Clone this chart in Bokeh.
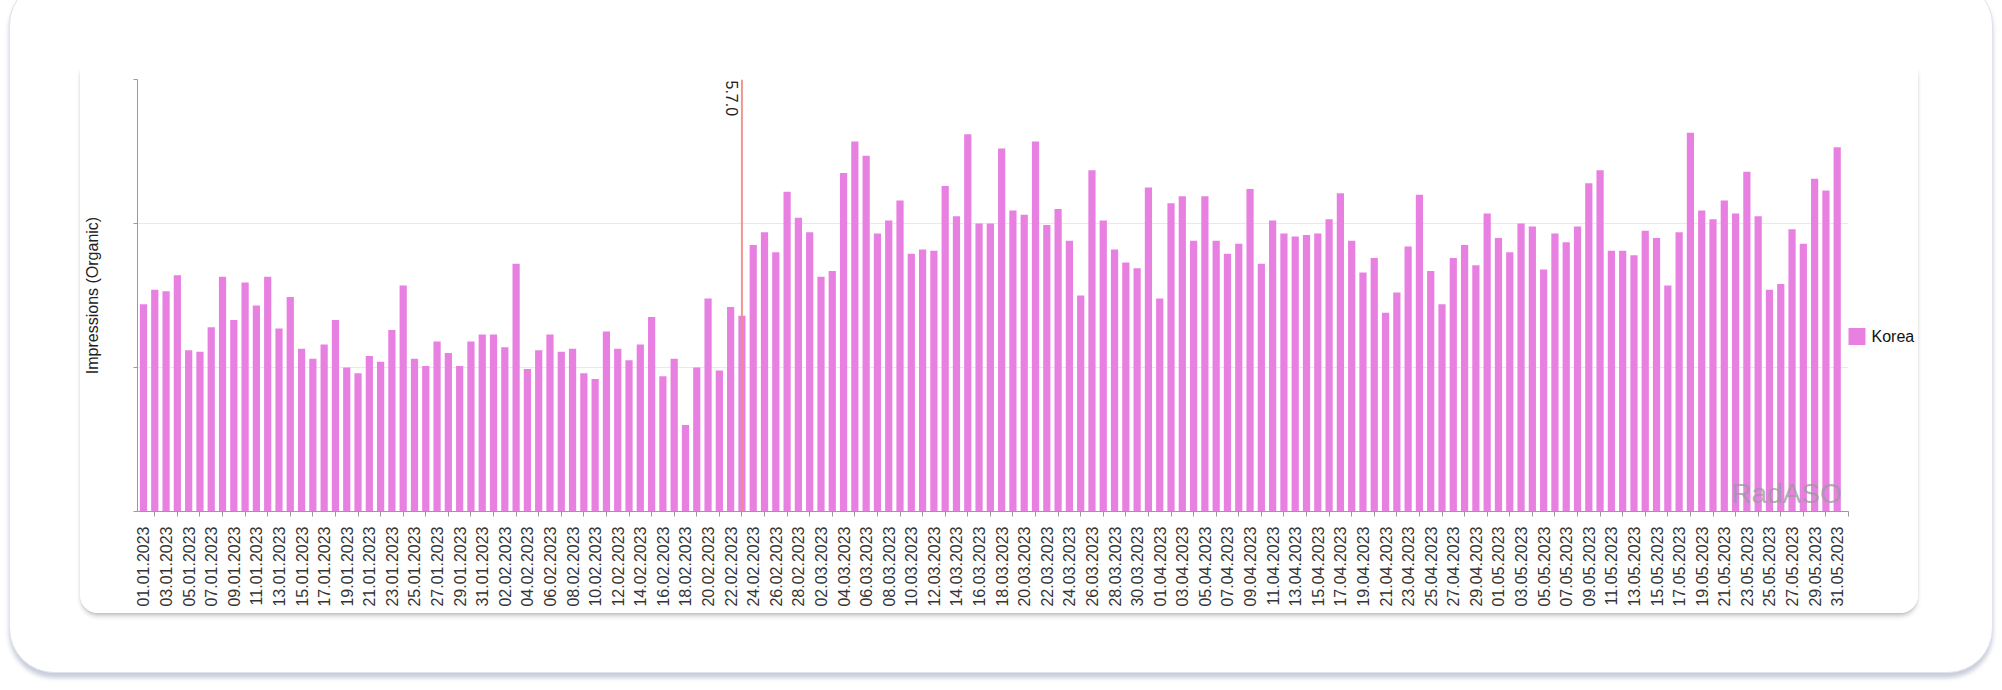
import math
import datetime
from bokeh.plotting import figure
from bokeh.layouts import column
from bokeh.models import (ColumnDataSource, FixedTicker, Span, Label, LinearAxis,
                          Range1d, CustomJSTickFormatter)
from bokeh.embed import file_html
from bokeh.resources import INLINE

# ---------------- data ----------------
start = datetime.date(2023, 1, 1)
dates = [(start + datetime.timedelta(days=i)).strftime("%d.%m.%Y") for i in range(151)]

impressions_jan = [1440, 1540, 1530, 1640, 1120, 1110, 1280, 1630, 1330, 1590, 1430, 1630, 1270, 1490,
                   1130, 1060, 1160, 1330, 1000, 960, 1080, 1040, 1260, 1570, 1060, 1010, 1180, 1100,
                   1010, 1180, 1230]
impressions_feb = [1230, 1140, 1720, 990, 1120, 1230, 1110, 1130, 960, 920, 1250, 1130, 1050, 1160,
                   1350, 940, 1060, 600, 1000, 1480, 980, 1420, 1360, 1850, 1940, 1800, 2220, 2040]
impressions_mar = [1940, 1630, 1670, 2350, 2570, 2470, 1930, 2020, 2160, 1790, 1820, 1810, 2260, 2050,
                   2620, 2000, 2000, 2520, 2090, 2060, 2570, 1990, 2100, 1880, 1500, 2370, 2020, 1820,
                   1730, 1690, 2250]
impressions_apr = [1480, 2140, 2190, 1880, 2190, 1880, 1790, 1860, 2240, 1720, 2020, 1930, 1910, 1920,
                   1930, 2030, 2210, 1880, 1660, 1760, 1380, 1520, 1840, 2200, 1670, 1440, 1760, 1850,
                   1710, 2070]
impressions_may = [1900, 1800, 2000, 1980, 1680, 1930, 1870, 1980, 2280, 2370, 1810, 1810, 1780, 1950,
                   1900, 1570, 1940, 2630, 2090, 2030, 2160, 2070, 2360, 2050, 1540, 1580, 1960, 1860,
                   2310, 2230, 2530]
impressions = impressions_jan + impressions_feb + impressions_mar + impressions_apr + impressions_may

series_name = "Korea"
release_date = "23.02.2023"
release_label = "5.7.0"
y_ticks = [0, 1000, 2000, 3000]

# ---------------- figure ----------------
FONT = "Liberation Sans"
BAR_COLOR = "#e880e2"
idx = list(range(len(dates)))
src = ColumnDataSource(dict(x=idx, y=impressions, date=dates))

p = figure(width=1838, height=545, output_backend="svg", toolbar_location=None,
           x_range=Range1d(-0.53, 151.0), y_range=Range1d(0, 3000),
           min_border_left=55, min_border_right=70, min_border_top=11, min_border_bottom=102,
           margin=(87, 0, 0, 70),
           styles={"border-radius": "0 0 18px 18px", "overflow": "hidden",
                   "box-shadow": "0 4px 5px -1px rgba(0,0,0,0.22), 0 1px 2px rgba(0,0,0,0.08)"})
p.outline_line_color = None
p.background_fill_color = "white"
p.border_fill_color = "white"

r = p.vbar(x="x", top="y", width=0.64, source=src, fill_color=BAR_COLOR, line_color=None)

# grid
p.xgrid.grid_line_color = None
p.ygrid.grid_line_color = "#e9e9e9"
p.ygrid.grid_line_width = 1
p.ygrid.ticker = FixedTicker(ticks=y_ticks)

# y axis
p.yaxis.ticker = FixedTicker(ticks=y_ticks)
p.yaxis.formatter = CustomJSTickFormatter(code="return ''")
p.yaxis.axis_label = "Impressions (Organic)"
p.yaxis.axis_label_text_font = FONT
p.yaxis.axis_label_text_font_size = "16px"
p.yaxis.axis_label_text_font_style = "normal"
p.yaxis.axis_label_text_color = "#222222"
p.yaxis.axis_label_standoff = 33
p.yaxis.major_label_standoff = 0
p.yaxis.axis_line_color = "#9a9a9a"
p.yaxis.major_tick_line_color = "#9a9a9a"
p.yaxis.major_tick_out = 4
p.yaxis.major_tick_in = 0
p.yaxis.minor_tick_line_color = None

# x axis
p.xaxis.ticker = FixedTicker(ticks=list(range(0, 151, 2)), minor_ticks=list(range(-1, 152, 2)))
p.xaxis.major_label_overrides = {i: dates[i] for i in range(0, 151, 2)}
p.xaxis.major_label_orientation = math.pi / 2
p.xaxis.major_label_text_font = FONT
p.xaxis.major_label_text_font_size = "16px"
p.xaxis.major_label_text_color = "#333333"
p.xaxis.major_label_standoff = 10
p.xaxis.major_tick_out = 0
p.xaxis.major_tick_in = 0
p.xaxis.minor_tick_out = 5
p.xaxis.minor_tick_in = 0
p.xaxis.minor_tick_line_color = "#9a9a9a"
p.xaxis.axis_line_color = "#9a9a9a"

# release marker
rel_x = dates.index(release_date)
p.add_layout(Span(location=rel_x, dimension="height", line_color="#f08a8a", line_width=2,
                  line_alpha=0.9))
p.add_layout(Label(x=rel_x, y=3000, text=release_label, angle=-math.pi / 2,
                   text_align="left", text_baseline="top", x_offset=-4, y_offset=-1,
                   text_font=FONT, text_font_size="16px", text_color="#222222"))

# watermark
p.add_layout(Label(x=150.4, y=0, text="RadASO", text_align="right", text_baseline="bottom",
                   y_offset=3, text_font=FONT, text_font_size="28px", text_color="#9a9a9a",
                   text_alpha=0.75))

# legend on the right side (swatch drawn as a thick tick, label as tick label)
legend_pos = 1215
legend_axis = LinearAxis(ticker=FixedTicker(ticks=[legend_pos]),
                         major_label_overrides={legend_pos: series_name},
                         axis_line_color=None, minor_tick_line_color=None,
                         major_tick_line_color=BAR_COLOR, major_tick_line_width=17,
                         major_tick_out=17, major_tick_in=0, major_label_standoff=6,
                         major_label_text_font=FONT, major_label_text_font_size="16px",
                         major_label_text_color="#111111")
p.add_layout(legend_axis, "right")

page = column(p, width=1984, height=693, margin=(-20, 0, 0, 9),
              styles={"background": "white", "border": "1px solid #dfe2ea",
                      "border-radius": "45px",
                      "box-shadow": "0 5px 4px rgba(170,180,200,0.65)"})

open("out.html", "w").write(file_html(page, INLINE))
